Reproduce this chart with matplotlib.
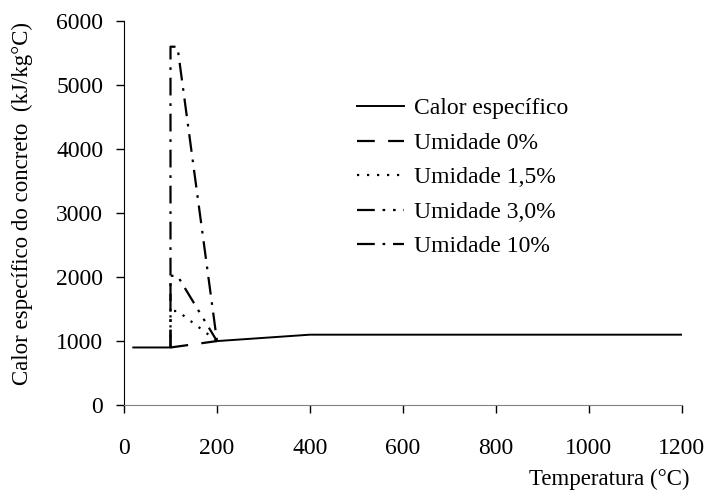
import matplotlib
matplotlib.use('Agg')
import matplotlib.pyplot as plt
import numpy as np

plt.rcParams['font.family'] = ['Liberation Serif', 'DejaVu Serif']
plt.rcParams['font.size'] = 17

# calor especifico do concreto (EC2) - curva base e picos de umidade
temp_base = [20, 100, np.nan, 200, 400, 1200]
calor_base = [900, 900, np.nan, 1000, 1100, 1100]

temp_u0 = [100, 200]
calor_u0 = [900, 1000]

temp_pico = [100, 100, 115, 200]
calor_u15 = [900, 1470, 1470, 1000]
calor_u30 = [900, 2020, 2020, 1000]
calor_u10 = [900, 5600, 5600, 1000]

fig = plt.figure(figsize=(7.07, 4.91), dpi=100)
ax = fig.add_axes([0.1754, 0.175, 0.789, 0.782])

lw = 1.6
ax.plot(temp_base, calor_base, color='black', lw=1.4, label='Calor específico')
ax.plot(temp_u0, calor_u0, color='black', lw=lw, dashes=(8, 6), label='Umidade 0%')
ax.plot(temp_pico, calor_u15, color='black', lw=lw, dashes=(1, 3.5), label='Umidade 1,5%')
ax.plot(temp_pico, calor_u30, color='black', lw=lw, dashes=(8, 3.5, 1.2, 3.5, 1.2, 3.5), label='Umidade 3,0%')
ax.plot(temp_pico, calor_u10, color='black', lw=lw, dashes=(8, 3.5, 1.2, 3.5), label='Umidade 10%')

ax.set_xlim(0, 1200)
ax.set_ylim(0, 6000)
ax.set_xticks(range(0, 1201, 200))
ax.set_yticks(range(0, 6001, 1000))

ax.spines['top'].set_visible(False)
ax.spines['right'].set_visible(False)
ax.spines['bottom'].set_color('#808080')
ax.tick_params(axis='both', direction='out', length=6, width=1)
ax.tick_params(axis='y', pad=9)
ax.tick_params(axis='x', pad=18)

ax.set_ylabel('Calor específico do concreto  (kJ/kg°C)', fontsize=16.5)
ax.yaxis.set_label_coords(-0.164, 0.525)
ax.set_xlabel('Temperatura (°C)', fontsize=16.5, ha='right', va='center')
ax.xaxis.set_label_coords(1.014, -0.193)

ax.legend(loc='upper left', bbox_to_anchor=(0.4176, 0.80), frameon=False,
          handlelength=2.0, handletextpad=0.4, labelspacing=0.55,
          borderpad=0, borderaxespad=0)

fig.savefig('out.png', dpi=100)
